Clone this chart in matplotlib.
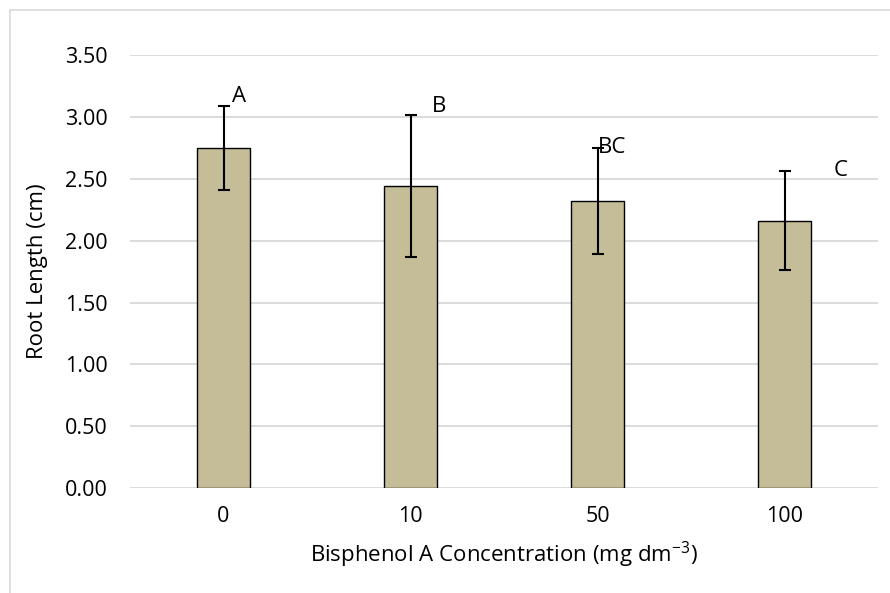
import matplotlib
matplotlib.use("Agg")
import matplotlib.pyplot as plt
from matplotlib.patches import Rectangle

categories = ["0", "10", "50", "100"]
root_length = [2.75, 2.44, 2.32, 2.16]
errors = [0.34, 0.57, 0.43, 0.40]
letters = ["A", "B", "BC", "C"]
y_ticks = [0.0, 0.5, 1.0, 1.5, 2.0, 2.5, 3.0, 3.5]

# label placement (style)
letter_dx = [0.085, 0.155, 0.077, 0.30]
letter_y = [3.08, 3.00, 2.67, 2.48]

plt.rcParams['font.family'] = ['Open Sans', 'DejaVu Sans']

W, H = 890, 593
fig = plt.figure(figsize=(W / 100, H / 100), dpi=100)
fig.patch.set_facecolor("white")

# outer chart frame (cut off at right/bottom)
fig.patches.append(Rectangle((10 / W, -0.2), 1.2, 1.2 - 10 / H,
                             transform=fig.transFigure, fill=False,
                             edgecolor="#d9d9d9", linewidth=1.2))

ax = fig.add_axes([130 / W, 1 - 488.3 / H, (878 - 130) / W, (488.3 - 54.8) / H])
x = list(range(len(categories)))
ax.bar(x, root_length, width=0.285, color="#c4bd97", edgecolor="black",
       linewidth=1.0, zorder=3)
ax.errorbar(x, root_length, yerr=errors, fmt="none", ecolor="black",
            elinewidth=1.5, capsize=4.5, capthick=1.5, zorder=4)

for i, lab in enumerate(letters):
    ax.text(i + letter_dx[i], letter_y[i], lab, ha="center", va="bottom",
            fontsize=16, color="black", zorder=5)

ax.set_xlim(-0.5, len(categories) - 0.5)
ax.set_ylim(0, 3.5)
ax.set_yticks(y_ticks)
ax.set_yticklabels([f"{v:.2f}" for v in y_ticks])
ax.set_xticks(x)
ax.set_xticklabels(categories)
ax.tick_params(axis="both", length=0, labelsize=15.5, colors="#000000")
ax.tick_params(axis="y", pad=16)
ax.tick_params(axis="x", pad=13)
ax.yaxis.grid(True, color="#d9d9d9", linewidth=1.3, zorder=0)
ax.set_axisbelow(True)
for s in ax.spines.values():
    s.set_visible(False)

ax.set_ylabel("Root Length (cm)", fontsize=16, labelpad=12)
ax.set_xlabel("Bisphenol A Concentration (mg dm$^{\\mathregular{-3}}$)",
              fontsize=16, labelpad=9)

fig.savefig("out.png", dpi=100)
